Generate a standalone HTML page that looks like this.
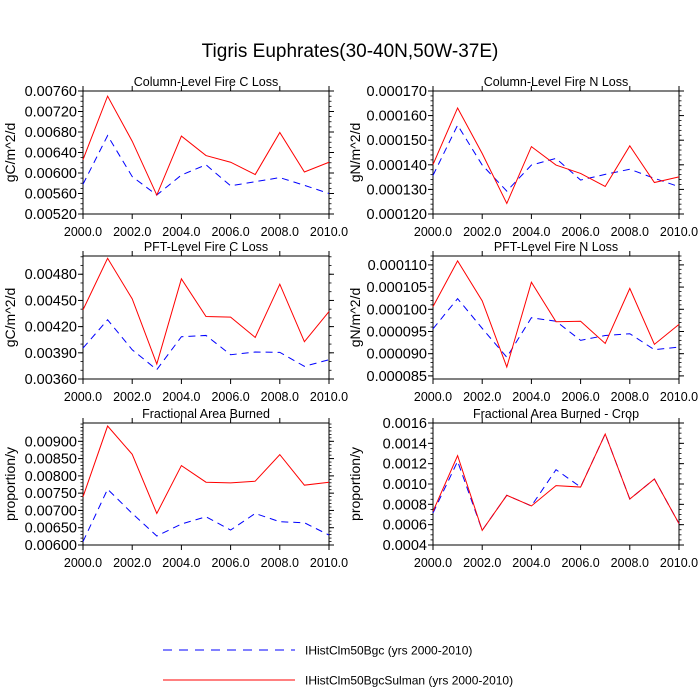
<!DOCTYPE html>
<html><head><meta charset="utf-8"><style>
html,body{margin:0;padding:0;background:#fff;}
svg{display:block;font-family:"Liberation Sans",sans-serif;}
</style></head><body>
<svg id="chart" width="700" height="700" viewBox="0 0 700 700" xmlns="http://www.w3.org/2000/svg">
<text x="350" y="57" font-size="19" text-anchor="middle">Tigris Euphrates(30-40N,50W-37E)</text>
<g>
<line x1="163" y1="650" x2="295" y2="650" stroke="#0000ff" stroke-width="1" stroke-dasharray="9,7"/>
<text x="305" y="654.5" font-size="12">IHistClm50Bgc (yrs 2000-2010)</text>
<line x1="163" y1="680" x2="295" y2="680" stroke="#ff0000" stroke-width="1"/>
<text x="305" y="684.5" font-size="12">IHistClm50BgcSulman (yrs 2000-2010)</text>
</g>
</svg>
<script>
const years = [2000,2001,2002,2003,2004,2005,2006,2007,2008,2009,2010];
const xTicks = [2000,2002,2004,2006,2008,2010];
const xTickLabels = ["2000.0","2002.0","2004.0","2006.0","2008.0","2010.0"];

const colCRed  = [0.00626,0.00750,0.00662,0.00557,0.00672,0.00634,0.00621,0.00597,0.00679,0.00602,0.00621];
const colCBlue = [0.00578,0.00673,0.00593,0.00557,0.00596,0.00616,0.00575,0.00583,0.00591,0.00576,0.00560];
const colCTicks = [0.00520,0.00560,0.00600,0.00640,0.00680,0.00720,0.00760];
const colCTickLabels = ["0.00520","0.00560","0.00600","0.00640","0.00680","0.00720","0.00760"];

const colNRed  = [0.0001401,0.0001631,0.0001446,0.0001243,0.0001474,0.0001399,0.0001365,0.0001312,0.0001477,0.0001328,0.0001351];
const colNBlue = [0.0001357,0.0001561,0.0001399,0.0001293,0.0001399,0.0001426,0.0001338,0.0001361,0.0001382,0.0001345,0.0001311];
const colNTicks = [0.000120,0.000130,0.000140,0.000150,0.000160,0.000170];
const colNTickLabels = ["0.000120","0.000130","0.000140","0.000150","0.000160","0.000170"];

const pftCRed  = [0.004392,0.004983,0.004518,0.003771,0.004747,0.004316,0.004309,0.004076,0.004686,0.004027,0.004373];
const pftCBlue = [0.003954,0.004278,0.003935,0.003707,0.004084,0.004099,0.003878,0.003909,0.003905,0.003745,0.003821];
const pftCTicks = [0.00360,0.00390,0.00420,0.00450,0.00480];
const pftCTickLabels = ["0.00360","0.00390","0.00420","0.00450","0.00480"];

const pftNRed  = [0.0001006,0.0001109,0.0001019,0.0000870,0.0001061,0.0000972,0.0000973,0.0000923,0.0001047,0.0000921,0.0000966];
const pftNBlue = [0.0000956,0.0001024,0.0000957,0.0000892,0.0000981,0.0000973,0.0000930,0.0000941,0.0000945,0.0000909,0.0000915];
const pftNTicks = [0.000085,0.000090,0.000095,0.000100,0.000105,0.000110];
const pftNTickLabels = ["0.000085","0.000090","0.000095","0.000100","0.000105","0.000110"];

const fabRed  = [0.007394,0.009442,0.008625,0.006913,0.008298,0.007817,0.007798,0.007846,0.008615,0.007731,0.007817];
const fabBlue = [0.006096,0.007615,0.006913,0.006260,0.006606,0.006817,0.006433,0.006913,0.006673,0.006644,0.006288];
const fabTicks = [0.00600,0.00650,0.00700,0.00750,0.00800,0.00850,0.00900];
const fabTickLabels = ["0.00600","0.00650","0.00700","0.00750","0.00800","0.00850","0.00900"];

const cropRed  = [0.000731,0.001279,0.000544,0.000889,0.000784,0.000984,0.000970,0.001492,0.000852,0.001049,0.000610];
const cropBlue = [0.000715,0.001223,0.000544,0.000889,0.000784,0.001141,0.000970,0.001492,0.000852,0.001049,0.000610];
const cropTicks = [0.0004,0.0006,0.0008,0.0010,0.0012,0.0014,0.0016];
const cropTickLabels = ["0.0004","0.0006","0.0008","0.0010","0.0012","0.0014","0.0016"];

const NS = "http://www.w3.org/2000/svg";
const svg = document.getElementById("chart");
function mk(tag, attrs, parent){ const e=document.createElementNS(NS,tag); for(const k in attrs) e.setAttribute(k,attrs[k]); parent.appendChild(e); return e; }

function panel(key, title, yTitle, yTitleX, x0, x1, y0, y1, ymin, ymax, ticks, tickLabels, red, blue, minorSub){
  const g = mk("g",{},svg);
  
  
  const xs = v => x0 + (v-2000)/10*(x1-x0);
  const ys = v => y1 - (v-ymin)/(ymax-ymin)*(y1-y0);
  const fr = mk("rect",{x:x0,y:y0,width:x1-x0,height:y1-y0,fill:"none",stroke:"#000","stroke-width":1},g);
  
  
  const step = ticks[1]-ticks[0];
  const ms = step/minorSub;
  for(let v=ticks[0]-step; v<=ymax+1e-12; v+=ms){
    if(v<ymin-1e-12) continue;
    const y=ys(v);
    mk("line",{x1:x0-2.5,y1:y,x2:x0,y2:y,stroke:"#000","stroke-width":0.8},g);
    mk("line",{x1:x1,y1:y,x2:x1+2.5,y2:y,stroke:"#000","stroke-width":0.8},g);
  }
  ticks.forEach((v,i)=>{
    const y=ys(v);
    mk("line",{x1:x0-5,y1:y,x2:x0,y2:y,stroke:"#000","stroke-width":1},g);
    mk("line",{x1:x1,y1:y,x2:x1+5,y2:y,stroke:"#000","stroke-width":1},g);
    const t=mk("text",{x:x0-6,y:y+5,"font-size":14.5,"text-anchor":"end"},g);
    t.textContent=tickLabels[i];
    
    
  });
  xTicks.forEach((v,i)=>{
    const x=xs(v);
    mk("line",{x1:x,y1:y1,x2:x,y2:y1+5,stroke:"#000","stroke-width":1},g);
    mk("line",{x1:x,y1:y0-5,x2:x,y2:y0,stroke:"#000","stroke-width":1},g);
    const t=mk("text",{x:x,y:y1+22,"font-size":12.5,"text-anchor":"middle"},g);
    t.textContent=xTickLabels[i];
    
    
  });
  const tt=mk("text",{x:(x0+x1)/2,y:y0-5,"font-size":12.5,"text-anchor":"middle"},g);
  tt.textContent=title;
  
  
  const yt=mk("text",{x:0,y:0,"font-size":14,"text-anchor":"middle",transform:`translate(${yTitleX},${(y0+y1)/2}) rotate(-90)`},g);
  yt.textContent=yTitle;
  
  
  const pb = years.map((yr,i)=>xs(yr).toFixed(2)+","+ys(blue[i]).toFixed(2)).join(" ");
  const lb=mk("polyline",{points:pb,fill:"none",stroke:"#0000ff","stroke-width":1,"stroke-dasharray":"7,5"},g);
  
  
  const pr = years.map((yr,i)=>xs(yr).toFixed(2)+","+ys(red[i]).toFixed(2)).join(" ");
  const lr=mk("polyline",{points:pr,fill:"none",stroke:"#ff0000","stroke-width":1},g);
  
  
}

panel("column-c","Column-Level Fire C Loss","gC/m^2/d",15,83,329,91,214,0.00520,0.00760,colCTicks,colCTickLabels,colCRed,colCBlue,4);
panel("column-n","Column-Level Fire N Loss","gN/m^2/d",360,433,679,91,214,0.000120,0.000170,colNTicks,colNTickLabels,colNRed,colNBlue,5);
panel("pft-c","PFT-Level Fire C Loss","gC/m^2/d",15,83,329,256,379,0.00360,0.005009,pftCTicks,pftCTickLabels,pftCRed,pftCBlue,3);
panel("pft-n","PFT-Level Fire N Loss","gN/m^2/d",360,433,679,256,379,0.0000843,0.000112,pftNTicks,pftNTickLabels,pftNRed,pftNBlue,5);
panel("area-burned","Fractional Area Burned","proportion/y",15,83,329,423,545,0.00600,0.00953,fabTicks,fabTickLabels,fabRed,fabBlue,5);
panel("area-burned-crop","Fractional Area Burned - Crop","proportion/y",360,433,679,423,545,0.0004,0.0016,cropTicks,cropTickLabels,cropRed,cropBlue,4);
</script>
</body></html>
